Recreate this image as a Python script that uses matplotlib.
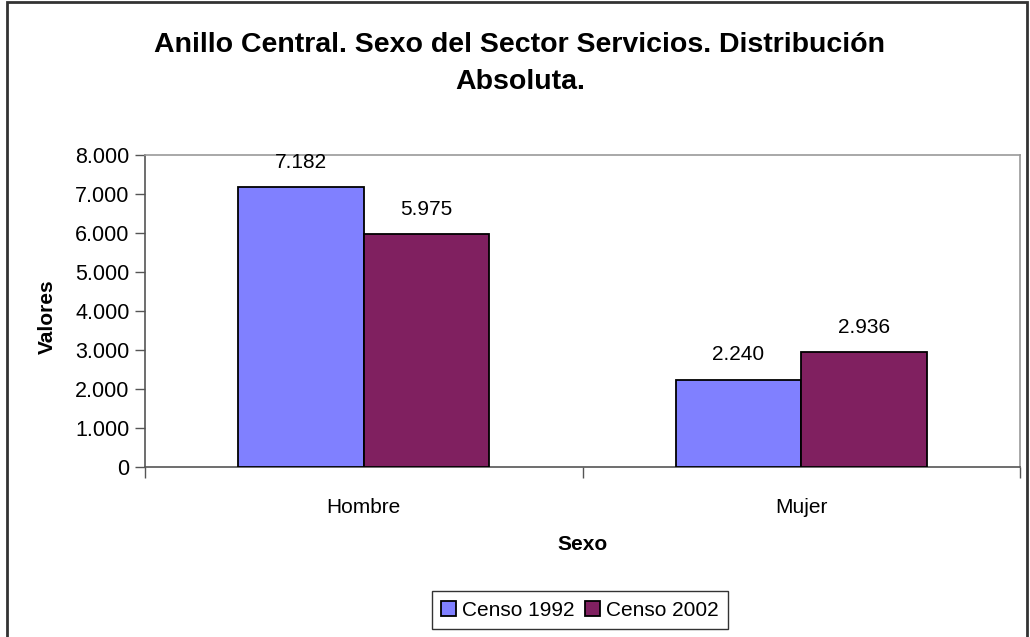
import matplotlib
matplotlib.use("Agg")
import matplotlib.pyplot as plt
from matplotlib.patches import Rectangle
import numpy as np

plt.rcParams['font.family'] = ['Liberation Sans', 'DejaVu Sans']

categories = ["Hombre", "Mujer"]
series_names = ["Censo 1992", "Censo 2002"]
censo_1992 = [7182, 2240]
censo_2002 = [5975, 2936]
yticks = [0, 1000, 2000, 3000, 4000, 5000, 6000, 7000, 8000]
ytick_labels = ["0", "1.000", "2.000", "3.000", "4.000", "5.000", "6.000", "7.000", "8.000"]
colors = ["#8080FF", "#802060"]

W, H = 1030, 637
fig = plt.figure(figsize=(W / 100, H / 100), dpi=100)
ax = fig.add_axes([145 / W, 1 - 467 / H, (1020 - 145) / W, (467 - 155) / H])

x = np.arange(len(categories))
bw = 0.287
fs = 15
for i, (vals, name) in enumerate(zip([censo_1992, censo_2002], series_names)):
    pos = x + (i - 0.5) * bw
    ax.bar(pos, vals, width=bw, color=colors[i], edgecolor="black",
           linewidth=1.3, label=name, zorder=3)
    for p, v in zip(pos, vals):
        ax.text(p, v + 390, f"{v:,}".replace(",", "."), ha="center", va="bottom",
                fontsize=fs, zorder=4)

ax.set_xlim(-0.5, 1.5)
ax.set_ylim(0, 8000)
ax.set_yticks(yticks)
ax.set_yticklabels(ytick_labels, fontsize=15.5)
ax.set_xticks([-0.5, 0.5, 1.5])
ax.set_xticklabels([])
ax.set_xticks(x, minor=True)
ax.set_xticklabels(categories, minor=True, fontsize=fs)
ax.tick_params(axis="x", which="minor", length=0, pad=22)
ax.tick_params(axis="x", which="major", length=8, width=1, color="#555555", direction="out")
ax.tick_params(axis="y", length=7, width=1, color="#555555", direction="out", pad=4)

for side in ["left", "bottom"]:
    ax.spines[side].set_color("#555555")
    ax.spines[side].set_linewidth(1.2)
for side in ["top", "right"]:
    ax.spines[side].set_color("#999999")
    ax.spines[side].set_linewidth(1.2)

fig.text(47 / W, 1 - 317 / H, "Valores", rotation=90, ha="center", va="center",
         fontsize=fs, fontweight="bold")
fig.text(583 / W, 1 - 544 / H, "Sexo", ha="center", va="center",
         fontsize=fs, fontweight="bold")
fig.text(520 / W, 1 - 45 / H, "Anillo Central. Sexo del Sector Servicios. Distribución",
         ha="center", va="center", fontsize=20.5, fontweight="bold")
fig.text(520 / W, 1 - 82 / H, "Absoluta.", ha="center", va="center",
         fontsize=20.5, fontweight="bold")

leg = fig.legend(loc="center", bbox_to_anchor=(580 / W, 1 - 610 / H), ncol=2,
                 fontsize=fs, frameon=True, fancybox=False, edgecolor="black",
                 handlelength=0.7, handleheight=0.7, handletextpad=0.3,
                 columnspacing=0.5, borderpad=0.45)
leg.get_frame().set_linewidth(1.0)

fig.patches.append(Rectangle((7 / W, -0.05), (1027 - 7) / W, 1.05 - 2 / H,
                             transform=fig.transFigure, fill=False,
                             edgecolor="#333333", linewidth=2))

fig.savefig("out.png", dpi=100)
